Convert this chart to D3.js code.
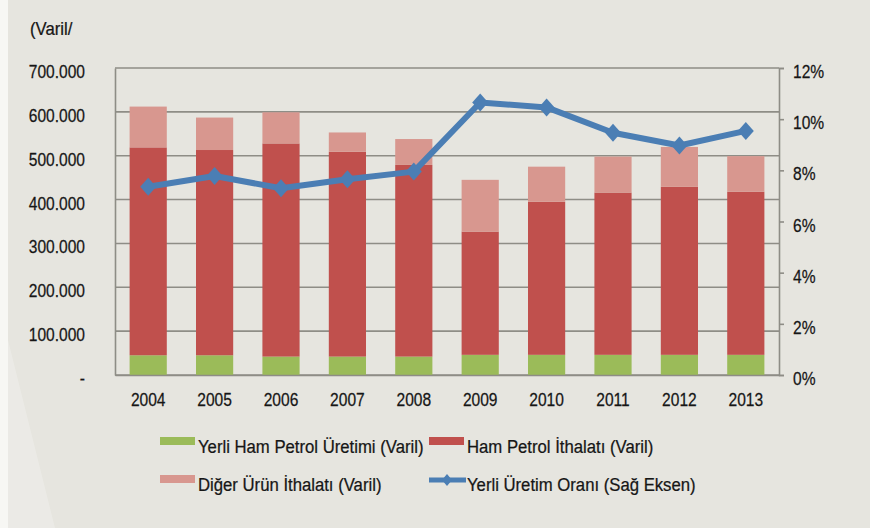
<!DOCTYPE html>
<html>
<head>
<meta charset="utf-8">
<script src="https://cdn.jsdelivr.net/npm/d3@7/dist/d3.min.js"></script>
<style>
  html, body { margin: 0; padding: 0; background: #e6e5df; }
  svg { display: block; }
  text { font-family: "Liberation Sans", Arial, sans-serif; fill: #161616; }
</style>
</head>
<body>
<svg id="chart" width="870" height="528"></svg>
<script>
// Yearly series (barrels)
const years = ["2004", "2005", "2006", "2007", "2008", "2009", "2010", "2011", "2012", "2013"];
const domesticCrude = [45000, 45000, 42000, 42000, 42000, 46000, 46000, 46000, 46000, 46000];
const crudeImports = [474000, 468000, 486000, 467000, 437000, 281000, 349000, 370000, 383000, 372000];
const otherImports = [93000, 74000, 71000, 44000, 59000, 118000, 80000, 82000, 91000, 81000];
// Domestic share, right axis (%)
const domesticShare = [7.36, 7.78, 7.3, 7.65, 7.95, 10.65, 10.46, 9.47, 8.97, 9.54];

const leftTicks = [0, 100000, 200000, 300000, 400000, 500000, 600000, 700000];
const leftTickLabels = ["-", "100.000", "200.000", "300.000", "400.000", "500.000", "600.000", "700.000"];
const rightTicks = [0, 2, 4, 6, 8, 10, 12];

const seriesNames = ["Yerli Ham Petrol Üretimi (Varil)", "Ham Petrol İthalatı (Varil)", "Diğer Ürün İthalatı (Varil)", "Yerli Üretim Oranı (Sağ Eksen)"];
const colors = { domestic: "#9bbb59", crude: "#c0504d", other: "#d8978f", line: "#4b7eb4" };

const FONT_SIZE = 19;
const SQUEEZE_DIGITS = 0.82; // horizontal compression for numeric labels
const SQUEEZE_WORDS = 0.88;  // horizontal compression for word labels

// Compress text horizontally while keeping its anchor point in place
function narrow(sel, k) {
  sel.each(function () {
    const t = d3.select(this);
    const x0 = +t.attr("x") || 0;
    t.attr("x", x0 / k).attr("transform", `scale(${k},1)`)
      .attr("font-size", FONT_SIZE)
      .attr("font-family", "'Liberation Sans', Arial, sans-serif")
      .attr("fill", "#161616")
      .attr("stroke", "#161616").attr("stroke-width", 0.25);
  });
}

const svg = d3.select("#chart");
const plot = { left: 115, right: 779, top: 68, bottom: 375 };

// Faint light band along the left edge
svg.append("rect").attr("x", 0).attr("y", 0).attr("width", 8).attr("height", 528).attr("fill", "#f7f7f4");
svg.append("path")
  .attr("d", "M8,340 L55,528 L8,528 Z")
  .attr("fill", "#ffffff").attr("opacity", 0.22);

const x = d3.scaleBand().domain(years).range([plot.left, plot.right]).paddingInner(0.44).paddingOuter(0.22);
const yL = d3.scaleLinear().domain([0, 700000]).range([plot.bottom, plot.top]);
const yR = d3.scaleLinear().domain([0, 12]).range([plot.bottom, plot.top]);

const gridColor = "#8e8d86";

// Horizontal gridlines
svg.append("g").selectAll("line").data(leftTicks).join("line")
  .attr("x1", plot.left).attr("x2", plot.right)
  .attr("y1", d => yL(d)).attr("y2", d => yL(d))
  .attr("stroke", gridColor).attr("stroke-width", 1.6);

// Left axis labels
const leftAxis = d3.axisLeft(yL).tickValues(leftTicks).tickSize(0).tickPadding(30)
  .tickFormat((d, i) => leftTickLabels[i]);
const gl = svg.append("g").attr("transform", `translate(${plot.left},0)`).call(leftAxis);
gl.select(".domain").attr("stroke", gridColor).attr("stroke-width", 1.6);
gl.selectAll("text").attr("dy", "0.5em").call(narrow, SQUEEZE_DIGITS);

// Stacked bars
const stackData = years.map((y, i) => ({ year: y, domestic: domesticCrude[i], crude: crudeImports[i], other: otherImports[i] }));
const stack = d3.stack().keys(["domestic", "crude", "other"])(stackData);
svg.append("g").selectAll("g").data(stack).join("g")
  .attr("fill", d => colors[d.key])
  .selectAll("rect").data(d => d).join("rect")
  .attr("x", d => x(d.data.year))
  .attr("width", x.bandwidth())
  .attr("y", d => yL(d[1]))
  .attr("height", d => yL(d[0]) - yL(d[1]));

// Bottom axis line and year labels
const bottomAxis = d3.axisBottom(x).tickSize(0).tickPadding(18);
const gb = svg.append("g").attr("transform", `translate(0,${plot.bottom})`).call(bottomAxis);
gb.select(".domain").attr("stroke", gridColor).attr("stroke-width", 1.6);
gb.selectAll("text").call(narrow, SQUEEZE_DIGITS);

// Right axis
const rightAxis = d3.axisRight(yR).tickValues(rightTicks).tickSize(5).tickPadding(9).tickFormat(d => d + "%");
const gr = svg.append("g").attr("transform", `translate(${plot.right},0)`).call(rightAxis);
gr.select(".domain").attr("stroke", gridColor).attr("stroke-width", 1.6);
gr.selectAll(".tick line").attr("stroke", gridColor).attr("stroke-width", 1.6);
gr.selectAll("text").attr("dy", "0.5em").call(narrow, SQUEEZE_DIGITS);

// Domestic share line with diamond markers
const line = d3.line().x((d, i) => x(years[i]) + x.bandwidth() / 2).y(d => yR(d));
svg.append("path").datum(domesticShare)
  .attr("d", line).attr("fill", "none")
  .attr("stroke", colors.line).attr("stroke-width", 6).attr("stroke-linejoin", "round");

const diamond = (cx, cy, w, h) => `M${cx},${cy - h} L${cx + w},${cy} L${cx},${cy + h} L${cx - w},${cy} Z`;
svg.append("g").selectAll("path").data(domesticShare).join("path")
  .attr("d", (d, i) => diamond(x(years[i]) + x.bandwidth() / 2, yR(d), 8, 9))
  .attr("fill", colors.line);

// Unit label
svg.append("text").attr("x", 30).attr("y", 35).text("(Varil/").call(narrow, SQUEEZE_WORDS);

// Legend
const legend = svg.append("g");
const legendItems = [
  { name: seriesNames[0], color: colors.domestic, type: "rect", x: 160, y: 446 },
  { name: seriesNames[1], color: colors.crude, type: "rect", x: 429, y: 446 },
  { name: seriesNames[2], color: colors.other, type: "rect", x: 160, y: 484 },
  { name: seriesNames[3], color: colors.line, type: "line", x: 429, y: 484 }
];
legendItems.forEach(it => {
  const g = legend.append("g");
  if (it.type === "rect") {
    g.append("rect").attr("x", it.x).attr("y", it.y - 9).attr("width", 35).attr("height", 8).attr("fill", it.color);
  } else {
    g.append("line").attr("x1", it.x).attr("x2", it.x + 37).attr("y1", it.y - 4).attr("y2", it.y - 4)
      .attr("stroke", it.color).attr("stroke-width", 5);
    g.append("path").attr("d", diamond(it.x + 18, it.y - 4, 5, 6)).attr("fill", it.color);
  }
  g.append("text").attr("x", it.x + 38).attr("y", it.y + 7).text(it.name).call(narrow, SQUEEZE_WORDS);
});
</script>
</body>
</html>
